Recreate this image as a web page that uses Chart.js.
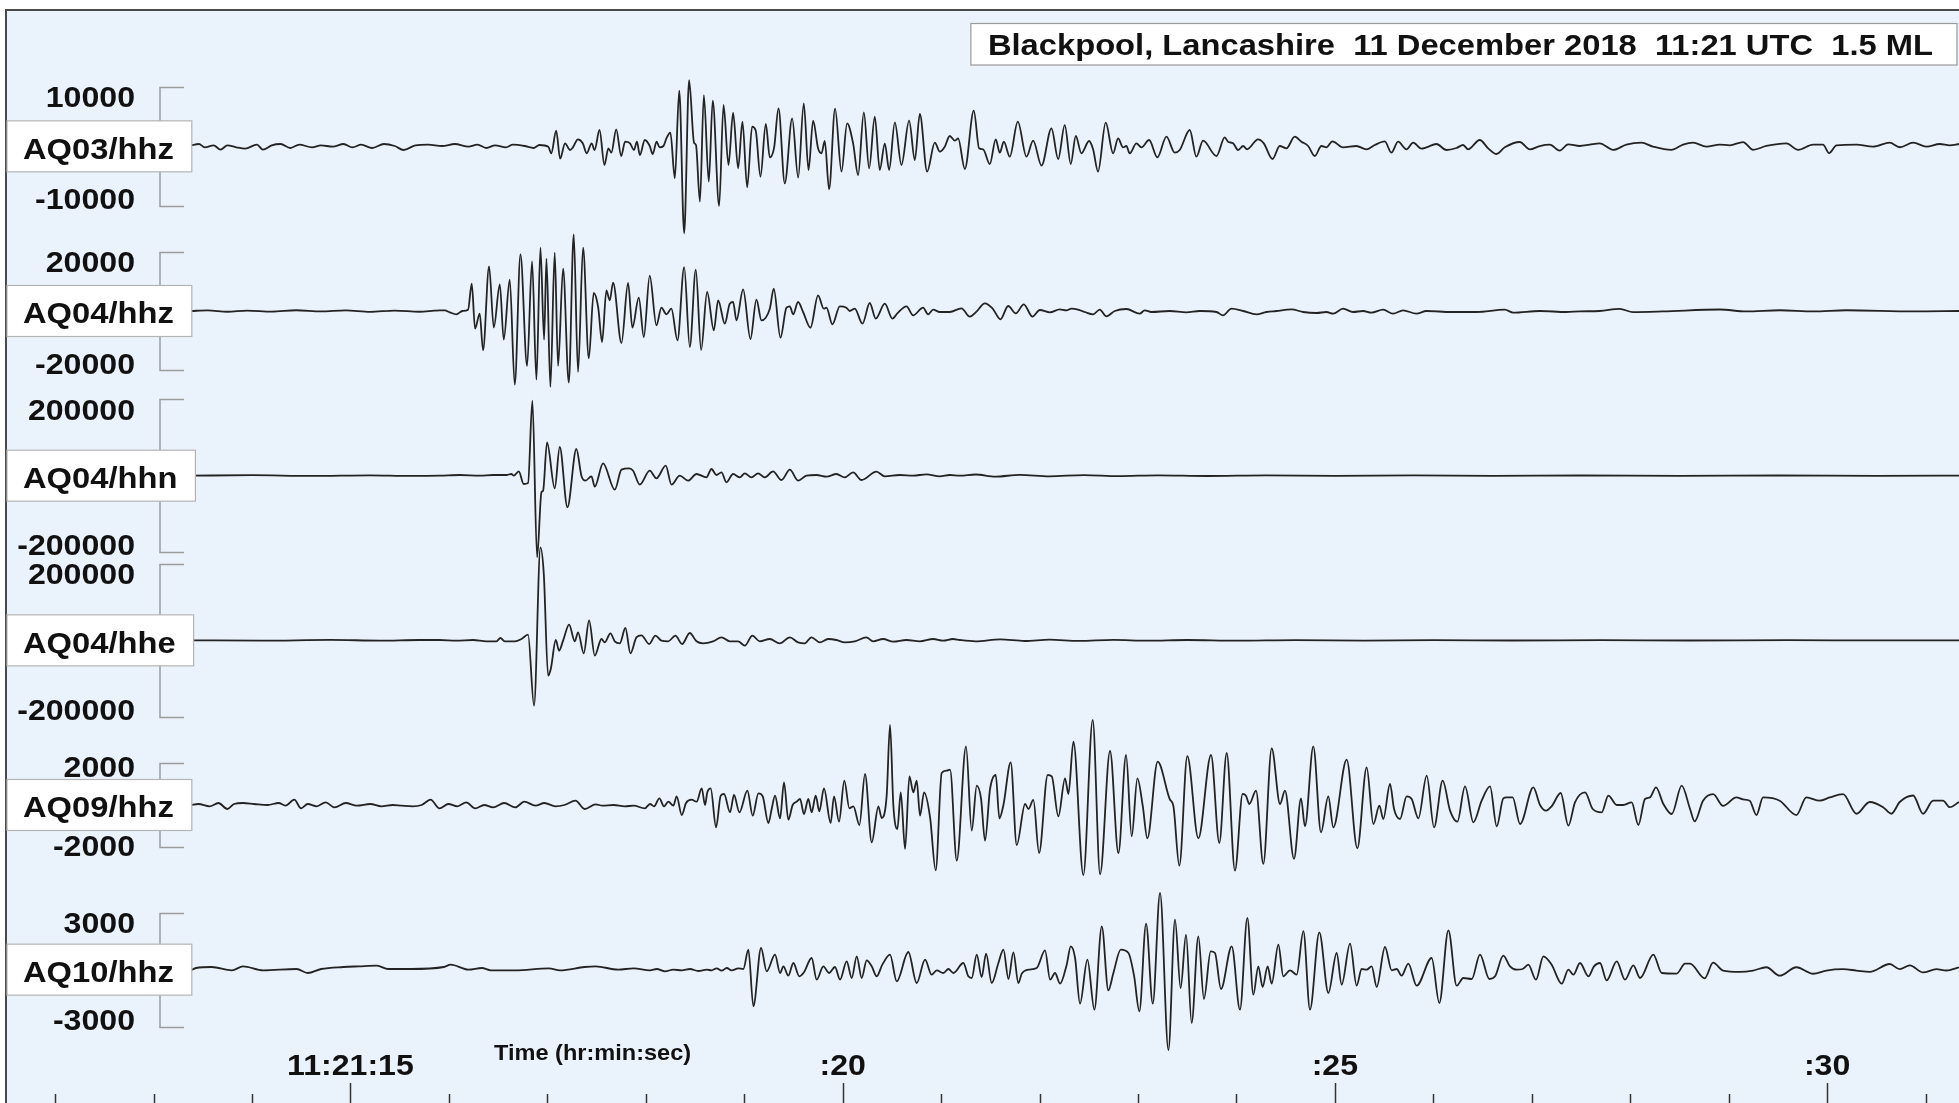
<!DOCTYPE html>
<html>
<head>
<meta charset="utf-8">
<title>Blackpool, Lancashire 11 December 2018 11:21 UTC 1.5 ML</title>
<script src="https://cdn.jsdelivr.net/npm/chart.js@4/dist/chart.umd.min.js"></script>
<style>
  html, body { margin: 0; padding: 0; background: #ffffff; }
  canvas { display: block; }
</style>
</head>
<body>
<canvas id="seis" width="1959" height="1103"></canvas>
<script>
// ---- channels, top to bottom ----
const channels = ['AQ03/hhz', 'AQ04/hhz', 'AQ04/hhn', 'AQ04/hhe', 'AQ09/hhz', 'AQ10/hhz'];
// amplitude (counts) marked by each channel's scale bracket
const bracketCounts = [10000, 20000, 200000, 200000, 2000, 3000];
// half-height of each channel's band, in counts
const bandCounts = [13890, 27780, 215900, 215900, 3940, 4330];

// ---- time axis: seconds after 11:21:00 UTC ----
const timeMin = 11.44;
const timeMax = 31.34;
const tickSeconds = [12, 13, 14, 15, 16, 17, 18, 19, 20, 21, 22, 23, 24, 25, 26, 27, 28, 29, 30, 31];
const labelSeconds = [15, 20, 25, 30];
const labelTexts = ['11:21:15', ':20', ':25', ':30'];
const axisTitle = 'Time (hr:min:sec)';
const chartTitle = 'Blackpool, Lancashire  11 December 2018  11:21 UTC  1.5 ML';

// ---- AQ03/hhz ----
const aq03Time = [13.38,13.46,13.52,13.61,13.68,13.75,13.84,13.93,14.05,14.11,14.20,14.29,14.39,14.48,14.61,14.70,14.82,14.93,15.02,15.11,15.22,15.34,15.45,15.54,15.66,15.79,15.93,16.06,16.20,16.29,16.38,16.47,16.58,16.65,16.77,16.86,
16.92,17.01,17.04,17.09,17.13,17.18,17.23,17.26,17.31,17.36,17.40,17.45,17.48,17.53,17.58,17.62,17.65,17.70,17.75,17.79,17.84,17.88,17.91,17.94,17.99,18.04,18.07,18.11,18.14,18.18,18.21,18.25,18.295,18.34,18.39,18.44,18.49,18.51,18.55,18.59,18.64,18.68,18.745,18.79,18.84,18.887,18.938,18.982,19.03,19.08,19.117,19.165,19.219,19.26,19.304,19.348,19.412,19.487,19.548,19.605,19.653,19.70,19.75,19.785,19.818,19.862,19.923,19.988,20.045,20.106,20.157,20.215,20.269,20.326,20.377,20.428,20.472,20.53,20.597,20.675,20.733,20.784,20.858,20.936,20.987,21.037,21.088,21.139,21.173,21.241,21.332,21.386,21.427,21.495,21.555,21.596,21.637,21.698,21.779,21.867,21.935,22.02,22.121,22.189,
22.256,22.317,22.368,22.425,22.503,22.544,22.594,22.672,22.747,22.798,22.848,22.882,22.916,22.984,23.035,23.113,23.197,23.289,23.373,23.424,23.526,23.593,23.661,23.797,23.881,23.915,23.966,24.017,24.068,24.108,24.22,24.278,24.366,24.44,24.508,24.592,24.66,24.728,24.796,24.863,24.914,24.975,25.083,25.219,25.32,25.405,25.507,25.574,25.642,25.727,25.795,25.879,25.93,26.032,26.133,26.235,26.303,26.353,26.472,26.557,26.641,26.726,26.878,26.98,27.081,27.183,27.284,27.369,27.488,
27.589,27.69,27.826,27.961,28.114,28.232,28.418,28.537,28.638,28.774,28.91,29.011,29.146,29.248,29.383,29.587,29.705,29.858,29.959,30.02,30.095,30.298,30.467,30.636,30.738,30.874,31.009,31.145,31.246,31.34];
const aq03Counts = [169,393,-169,169,-562,169,-169,-393,281,-562,169,393,-281,281,-169,169,-56,393,-169,281,-281,393,56,-618,169,281,56,393,-56,281,-281,169,-169,281,56,-281,
225,-56,-1180,2641,-2079,506,-618,-169,1180,506,-1180,506,-618,2754,-3147,-337,-1068,2866,-1630,787,506,-618,787,-1461,1068,56,-1293,787,-169,56,1349,2304,-5395,9385,-14668,11184,618,225,-9329,8655,-5957,7699,-10060,6969,-3147,5676,-3709,4159,-6913,3316,2641,-5114,3765,-1855,-169,6407,-6238,4721,-5283,7250,-3990,4327,-337,-1180,899,-7250,6351,-4271,3878,506,-4833,5732,-3709,5002,-3990,506,-3990,4046,-3147,4327,-2304,5451,-4271,618,-899,-56,1742,955,1349,-3822,6013,-337,-506,-2979,1180,-1068,787,-1742,4159,-1742,955,-3260,3035,-2136,
3591,-2979,1742,-1180,899,-506,-4271,3990,-1180,1349,-169,56,-1180,506,-169,1068,-1855,1630,-1068,-618,2754,-1742,955,-1630,1517,787,506,-618,56,-506,1180,506,-2136,56,-337,1630,787,56,-1630,56,-169,843,-169,56,-506,225,843,-1068,787,-506,618,-393,-169,393,-618,-281,225,-506,1068,-337,-1293,-169,731,-506,56,281,-731,337,56,
285,505,-592,285,614,-44,-592,285,614,-44,285,176,724,-592,66,505,-592,285,285,-1141,176,285,-44,614,-154,614,-44,395,176,395];

// ---- AQ04/hhz ----
const aq04zTime = [13.38,13.55,13.75,13.95,14.2,14.45,14.7,14.95,15.2,15.45,15.7,15.85,
15.907,15.958,16.009,16.076,16.137,16.195,16.232,16.266,16.313,16.347,16.408,16.456,16.517,16.557,16.618,16.669,16.727,16.794,16.845,16.889,16.93,16.967,16.991,17.031,17.075,17.109,17.16,17.218,17.268,17.312,17.363,17.421,17.471,17.516,17.556,17.6,17.634,17.668,17.753,17.82,17.864,17.929,17.98,18.04,18.108,18.159,18.21,18.26,18.322,18.39,18.447,18.508,18.562,18.623,18.691,18.735,18.803,18.853,18.887,18.921,18.989,19.063,19.124,19.175,19.26,19.3,19.368,19.429,19.463,19.497,19.547,19.598,19.673,19.75,19.808,19.835,19.896,19.971,20.038,20.072,20.123,20.201,20.275,20.336,20.428,20.506,20.553,20.648,20.716,20.817,20.868,20.919,20.987,21.088,
21.207,21.291,21.359,21.444,21.522,21.603,21.681,21.759,21.84,21.928,22.003,22.105,22.205,
22.273,22.324,22.391,22.459,22.544,22.611,22.679,22.764,22.882,23.018,23.068,23.136,23.323,23.492,23.627,23.797,23.864,23.949,24.068,24.203,24.305,24.406,24.559,24.677,24.813,24.914,24.982,25.083,25.185,25.287,25.371,25.49,25.591,25.693,25.828,25.93,26.184,26.438,26.726,26.811,27.081,27.352,27.488,
27.69,27.893,28.029,28.334,28.91,29.18,29.52,29.858,30.196,30.874,31.34];
const aq04zCounts = [0,200,-250,150,-200,250,-150,200,-300,150,-250,100,
225,225,-450,-1124,0,450,9217,-5958,-899,-13263,15063,-5620,8992,-9667,10566,-24845,19108,-18546,16748,-23159,21356,-9667,17646,-25627,19670,-18546,14275,-24171,25852,-20569,21356,-15961,6070,1349,-10453,6969,3597,9555,-10791,9442,-5620,4496,-8767,11915,-4834,1124,-1124,787,-9892,14837,-12139,13937,-13151,6407,-6520,3597,-4271,2473,3035,-3147,7306,-9442,3822,-3147,787,7531,-9005,1124,1574,-1124,3035,-337,-5620,5283,787,1124,-4496,1574,1124,0,787,-4271,2698,-2585,2473,-2585,-899,1574,-1461,1124,-1124,450,-337,-337,
899,-1911,-225,2585,899,-2810,1686,-787,2248,-1911,337,-450,562,
225,787,450,-337,-1124,450,-1799,0,674,-899,225,-337,0,-450,0,-337,-1461,787,0,-1124,-337,0,562,-337,-674,-337,-899,787,-337,0,-562,450,-899,225,-899,0,-337,-337,450,-562,0,-337,-112,
0,700,-370,-150,500,-150,250,-150,250,-150,0];

// ---- AQ04/hhn ----
const aq04nTime = [13.38,14.0,14.6,15.2,15.6,
15.907,16.11,16.313,16.449,16.584,16.635,16.659,16.71,16.76,16.804,16.848,16.896,16.94,16.957,16.997,17.075,17.126,17.204,17.295,17.346,17.387,17.448,17.482,17.566,17.685,17.753,17.831,17.871,17.939,18.04,18.108,18.203,18.261,18.345,18.43,18.515,18.616,18.667,18.718,18.769,18.819,18.887,18.955,19.006,19.073,19.141,19.209,19.293,19.378,19.463,19.547,19.632,19.734,19.836,19.937,20.021,20.106,20.191,20.343,20.428,20.58,20.716,20.851,20.987,21.088,21.19,
21.35,21.55,21.8,22.1,22.45,22.8,23.2,23.7,24.3,25.0,25.8,26.6,27.5,28.5,29.5,30.5,31.34];
const aq04nCounts = [0,1200,-800,1000,-600,
0,1747,0,1747,1747,4369,0,11358,-21843,-19222,196583,-214057,-43685,-39316,87370,-33201,75138,-83001,69896,0,-13106,-1747,-28832,32327,-36695,15727,19222,13106,-23590,13106,-6990,26211,-23590,0,-13106,4369,-4369,17474,1747,8737,-17474,4369,-4369,6116,-4369,6116,-4369,11358,-11358,15727,-13106,0,1747,-2621,4369,-4369,8737,-11358,10485,-1747,1747,0,3495,-1747,1747,0,
3000,-2500,2000,-1800,1500,-1200,1000,-900,700,-700,600,-500,500,-400,400,-300,0];

// ---- AQ04/hhe ----
const aq04eTime = [13.38,14.1,14.8,15.3,15.7,
15.907,16.076,16.246,16.381,16.483,16.523,16.567,16.669,16.737,16.804,16.865,16.93,16.964,17.008,17.035,17.086,17.119,17.16,17.221,17.279,17.312,17.37,17.424,17.482,17.55,17.583,17.641,17.685,17.736,17.793,17.844,17.905,17.956,18.034,18.098,18.159,18.227,18.301,18.369,18.447,18.515,18.582,18.684,18.769,18.853,18.938,19.006,19.083,19.158,19.26,19.361,19.463,19.547,19.615,19.683,19.768,19.852,19.937,20.021,20.123,20.241,20.309,20.411,20.513,20.648,20.783,20.919,21.02,21.122,21.19,
21.35,21.6,21.85,22.1,22.4,22.75,23.1,23.5,24.0,24.6,25.3,26.0,26.8,27.7,28.6,29.6,30.5,31.34];
const aq04eCounts = [0,-900,1200,-700,900,
874,-874,874,-2621,-2621,6116,-2621,-2621,3495,14853,-171245,243689,173866,-92612,-75138,874,-27085,-874,41065,-2621,20969,-34074,52422,-40190,3495,-5242,18348,-2621,-7864,32327,-34074,7864,13106,-9611,12232,-874,-2621,12232,-9611,19222,-2621,-7864,-2621,7864,-2621,-2621,-13980,12232,-2621,3495,-7864,7864,-5242,-7864,7864,-5242,3495,874,-5242,-2621,7864,-2621,3495,-3495,874,-2621,3495,-874,3495,874,
-2500,2500,-1800,1800,-1500,1200,-1000,900,-800,700,-600,600,-500,400,-400,300,-300,0];

// ---- AQ09/hhz ----
const aq09Time = [13.378,13.455,13.569,13.659,13.75,13.818,13.909,14.022,14.158,14.271,14.34,14.43,14.498,14.566,14.657,14.748,14.838,14.952,15.065,15.201,15.315,15.428,15.519,15.632,15.723,15.814,15.904,15.995,16.086,16.176,16.267,16.358,16.448,16.562,16.675,16.766,16.879,16.97,17.083,17.174,17.287,17.378,17.491,17.559,17.673,17.786,17.877,17.99,
18.043,18.084,18.138,18.185,18.229,18.28,18.314,18.365,18.409,18.466,18.517,18.568,18.602,18.625,18.659,18.714,18.761,18.795,18.856,18.896,18.951,19.032,19.086,19.144,19.188,19.245,19.279,19.313,19.364,19.404,19.448,19.492,19.533,19.567,19.607,19.651,19.685,19.726,19.763,19.81,19.878,19.912,19.963,20.017,20.068,20.109,20.17,20.227,20.295,20.363,20.396,20.447,20.481,20.515,20.556,20.59,20.634,20.678,20.718,20.752,20.786,20.827,20.888,20.945,21.006,21.057,21.091,21.159,21.253,21.311,21.362,21.406,21.446,21.497,21.555,21.592,21.633,21.707,21.768,21.853,21.887,21.937,21.995,22.083,22.124,22.191,22.259,22.293,22.344,22.445,22.54,22.615,22.716,22.801,22.879,22.936,22.994,23.048,23.095,23.2,
23.325,23.359,23.42,23.501,23.613,23.742,23.826,23.901,23.985,24.063,24.097,24.131,24.199,24.273,24.358,24.443,24.493,24.585,24.656,24.696,24.781,24.859,24.933,24.984,25.12,25.228,25.323,25.391,25.452,25.492,25.56,25.601,25.662,25.729,25.78,25.848,25.933,26.007,26.095,26.17,26.244,26.322,26.407,26.491,26.576,26.644,26.711,26.745,26.806,26.881,27.016,27.084,27.145,27.202,27.294,27.372,27.439,27.541,27.619,27.71,27.778,27.863,27.93,28.015,28.083,28.15,28.201,28.262,28.337,28.422,28.523,28.608,
28.655,28.74,28.842,28.943,29.079,29.146,29.214,29.282,29.35,29.519,29.688,29.79,29.925,30.027,30.162,30.298,30.433,30.569,30.653,30.738,30.874,30.975,31.077,31.178,31.246,31.34];
const aq09Counts = [0,48,-64,96,-191,48,96,48,0,96,-32,255,-160,48,-64,128,-112,96,-32,48,-64,0,-32,-64,0,255,-160,48,-64,128,-160,0,-112,96,-112,160,-32,96,-64,0,207,-191,32,-32,0,-64,-32,-160,
48,-64,319,-64,160,-32,415,-479,96,255,160,798,0,606,798,-1069,447,526,-351,478,-351,686,-510,558,415,-862,-191,447,-638,1085,-702,0,160,287,-431,287,-351,447,-303,798,-862,415,-798,1165,-160,-64,-957,1484,-1787,-64,-622,447,3828,-32,-1148,606,-2101,1372,606,1165,-510,606,-590,-3131,1532,1643,1691,-2664,2807,-1228,925,287,-1707,766,1436,-638,0,2042,-1914,48,-191,241,-2297,1436,1372,-542,1276,526,3030,-3349,4067,-3317,2584,-2297,2392,-1499,1276,-32,-1595,2074,
255,-32,-2903,2335,-1595,2392,-1818,2488,-3142,526,447,48,686,-2818,2711,48,686,-2578,319,-1021,2807,-1308,415,-1069,2169,-2074,1802,-909,-32,-670,1005,-191,-670,415,287,-638,1404,-1069,1164,-271,-798,893,-829,207,893,-1021,319,367,367,-909,845,0,-271,-64,574,-989,128,606,-191,-351,447,0,0,128,-957,287,367,845,48,-431,925,-191,
-787,205,517,-44,361,268,205,-480,361,205,-480,361,205,361,517,-418,143,-106,-418,143,454,-418,205,205,-106,143];

// ---- AQ10/hhz ----
const aq10Time = [13.378,13.432,13.591,13.795,13.909,14.113,14.453,14.566,14.702,14.929,15.088,15.269,15.383,15.609,15.949,16.017,16.199,16.335,16.426,16.675,17.015,17.129,17.378,17.491,17.718,17.877,
18.043,18.111,18.195,18.28,18.365,18.449,18.534,18.619,18.669,18.72,18.771,18.822,18.873,18.94,18.991,19.042,19.093,19.171,19.228,19.313,19.364,19.398,19.448,19.499,19.56,19.607,19.685,19.736,19.804,19.861,19.922,19.973,20.041,20.092,20.143,20.193,20.244,20.295,20.346,20.403,20.481,20.549,20.667,20.752,20.837,20.904,20.955,21.023,21.074,21.125,21.226,21.277,21.311,21.362,21.412,21.457,21.514,21.582,21.633,21.684,21.734,21.785,21.819,21.887,21.971,22.056,22.107,22.157,22.208,22.276,22.317,22.361,22.411,22.486,22.557,22.632,22.699,22.75,22.825,22.903,22.96,23.014,23.082,23.15,23.224,23.309,
23.376,23.433,23.488,23.545,23.613,23.67,23.738,23.782,23.843,23.952,24.036,24.111,24.172,24.222,24.266,24.317,24.358,24.426,24.476,24.544,24.612,24.68,24.747,24.842,24.934,25.018,25.069,25.154,25.221,25.272,25.323,25.374,25.425,25.509,25.577,25.628,25.678,25.746,25.831,25.983,26.061,26.153,26.237,26.305,26.39,26.474,26.569,26.627,26.711,26.779,26.847,26.908,26.965,27.043,27.118,27.202,27.304,27.372,27.423,27.49,27.575,27.632,27.693,27.761,27.863,27.947,28.032,28.1,28.235,28.32,28.472,28.557,28.608,
28.757,28.842,28.943,29.113,29.248,29.383,29.519,29.688,29.858,29.993,30.162,30.298,30.433,30.636,30.738,30.84,30.975,31.11,31.212,31.34];
const aq10Counts = [-35,88,140,-35,175,-35,35,-175,35,140,175,210,35,35,140,263,0,88,-35,-35,70,-35,140,175,0,70,
-35,35,-88,0,-35,35,-70,0,-35,70,-53,88,-35,70,35,1052,-1929,1140,-88,789,-175,175,-316,351,-351,-140,614,-526,175,-175,140,-526,439,-439,702,-439,491,175,-351,263,789,-614,930,-702,526,-263,-35,-175,35,-175,351,-351,-439,789,-386,842,-702,351,1052,-491,912,-702,-210,0,88,1017,-526,-175,-737,263,1228,614,-1789,526,-2104,2280,-1087,-175,1052,877,-316,-2192,2420,-1789,4034,-4230,
2631,-965,1842,-2806,1754,-1543,965,877,-1017,1228,-2104,2719,-1315,175,-912,175,-737,1315,-351,-35,-263,2025,-2104,1964,-1227,877,-789,1368,-842,35,0,175,-912,1193,-35,35,-316,316,-842,614,-1754,2069,-842,-439,-491,789,-491,-351,737,175,0,35,263,-526,702,263,-737,0,-263,351,-351,175,351,-561,439,-526,228,-438,789,-175,-210,316,316,
-456,366,-45,-113,-45,127,-318,127,-216,-45,24,-45,-113,298,24,229,-147,24,-45,127];

const traceTimes = [aq03Time, aq04zTime, aq04nTime, aq04eTime, aq09Time, aq10Time];
const traceCounts = [aq03Counts, aq04zCounts, aq04nCounts, aq04eCounts, aq09Counts, aq10Counts];

// ---- drawing helpers ----
const FONT_FAMILY = '"Liberation Sans", Arial, Helvetica, sans-serif';
const TEXT_STRETCH = 1.07;   // lettering is drawn slightly wide
const INK = '#111111';

function wideText(ctx, text, x, y, size, align, stretch) {
  const sx = stretch || TEXT_STRETCH;
  ctx.save();
  ctx.font = 'bold ' + size + 'px ' + FONT_FAMILY;
  ctx.fillStyle = INK;
  ctx.textAlign = align;
  ctx.textBaseline = 'middle';
  ctx.translate(x, y + 3);
  ctx.scale(sx, 1);
  ctx.fillText(text, 0, 0);
  ctx.restore();
}
function wideTextWidth(ctx, text, size, stretch) {
  const sx = stretch || TEXT_STRETCH;
  ctx.save();
  ctx.font = 'bold ' + size + 'px ' + FONT_FAMILY;
  const w = ctx.measureText(text).width * sx;
  ctx.restore();
  return w;
}

// light-blue panel with a dark frame on its top and left edges
const panelPlugin = {
  id: 'panel',
  beforeDraw(chart) {
    const {ctx, width, height} = chart;
    ctx.save();
    ctx.fillStyle = '#ffffff';
    ctx.fillRect(0, 0, width, height);
    ctx.fillStyle = '#EAF3FC';
    ctx.fillRect(6, 10, width - 6, height - 10);
    ctx.strokeStyle = '#4a4a4a';
    ctx.lineWidth = 2;
    ctx.beginPath();
    ctx.moveTo(6, height);
    ctx.lineTo(6, 10);
    ctx.lineTo(width, 10);
    ctx.stroke();
    ctx.restore();
  }
};

// amplitude brackets beside each trace
const bracketPlugin = {
  id: 'brackets',
  beforeDatasetsDraw(chart) {
    const ctx = chart.ctx;
    ctx.save();
    ctx.strokeStyle = '#9c9c9c';
    ctx.lineWidth = 1.5;
    channels.forEach((name, i) => {
      const ys = chart.scales['y' + i];
      const top = Math.round(ys.getPixelForValue(bracketCounts[i])) + 0.5;
      const bot = Math.round(ys.getPixelForValue(-bracketCounts[i])) + 0.5;
      ctx.beginPath();
      ctx.moveTo(184, top);
      ctx.lineTo(160, top);
      ctx.lineTo(160, bot);
      ctx.lineTo(184, bot);
      ctx.stroke();
    });
    ctx.restore();
  }
};

// channel boxes, bracket values, title box and time axis
const annotationPlugin = {
  id: 'annotations',
  afterDatasetsDraw(chart) {
    const ctx = chart.ctx;
    ctx.save();

    channels.forEach((name, i) => {
      const ys = chart.scales['y' + i];
      const mid = ys.getPixelForValue(0);
      const top = ys.getPixelForValue(bracketCounts[i]);
      const bot = ys.getPixelForValue(-bracketCounts[i]);
      const boxH = 51;
      const boxTop = mid - boxH / 2;
      const nameStretch = 1.09;
      const boxW = wideTextWidth(ctx, name, 30, nameStretch) + 34;

      ctx.fillStyle = '#ffffff';
      ctx.fillRect(7, boxTop, boxW, boxH);
      ctx.strokeStyle = '#b4b4b4';
      ctx.lineWidth = 1.2;
      ctx.strokeRect(7, boxTop, boxW, boxH);
      wideText(ctx, name, 23, mid + 1, 30, 'left', nameStretch);

      const upY = Math.min(top + 9, boxTop - 14);
      const dnY = Math.max(bot - 8, boxTop + boxH + 14);
      wideText(ctx, String(bracketCounts[i]), 135, upY, 30, 'right');
      wideText(ctx, String(-bracketCounts[i]), 135, dnY, 30, 'right');
    });

    // title box, top right
    const titleStretch = 1.09;
    const tw = wideTextWidth(ctx, chartTitle, 30, titleStretch);
    const right = 1957;
    const left = right - tw - 41;
    ctx.fillStyle = '#ffffff';
    ctx.fillRect(left, 23.5, right - left, 41.5);
    ctx.strokeStyle = '#9a9a9a';
    ctx.lineWidth = 1.2;
    ctx.strokeRect(left, 23.5, right - left, 41.5);
    wideText(ctx, chartTitle, left + 17, 44, 30, 'left', titleStretch);

    // time axis ticks along the bottom edge
    const xs = chart.scales.x;
    ctx.strokeStyle = '#333333';
    ctx.lineWidth = 1.5;
    tickSeconds.forEach(s => {
      const px = Math.round(xs.getPixelForValue(s)) + 0.5;
      const major = labelSeconds.includes(s);
      ctx.beginPath();
      ctx.moveTo(px, major ? 1083 : 1094);
      ctx.lineTo(px, 1103);
      ctx.stroke();
    });
    labelSeconds.forEach((s, k) => {
      wideText(ctx, labelTexts[k], xs.getPixelForValue(s), 1064, 30, 'center');
    });
    wideText(ctx, axisTitle, 494, 1051, 22, 'left');

    ctx.restore();
  }
};

// ---- chart ----
const datasets = channels.map((name, i) => ({
  label: name,
  data: traceTimes[i].map((t, k) => ({x: t, y: traceCounts[i][k]})),
  xAxisID: 'x',
  yAxisID: 'y' + i,
  borderColor: '#232323',
  borderWidth: 1.8,
  pointRadius: 0,
  cubicInterpolationMode: 'monotone',
  clip: false
}));

const scales = {
  x: {type: 'linear', min: timeMin, max: timeMax, display: false}
};
channels.forEach((name, i) => {
  scales['y' + i] = {
    type: 'linear',
    position: 'right',
    stack: 'traces',
    stackWeight: 1,
    min: -bandCounts[i],
    max: bandCounts[i],
    display: false
  };
});

new Chart(document.getElementById('seis'), {
  type: 'line',
  data: {datasets},
  options: {
    responsive: false,
    devicePixelRatio: 1,
    animation: false,
    parsing: false,
    normalized: true,
    layout: {padding: {top: 64, bottom: 51, left: 0, right: 0}},
    scales,
    plugins: {legend: {display: false}, tooltip: {enabled: false}}
  },
  plugins: [panelPlugin, bracketPlugin, annotationPlugin]
});
</script>
</body>
</html>
